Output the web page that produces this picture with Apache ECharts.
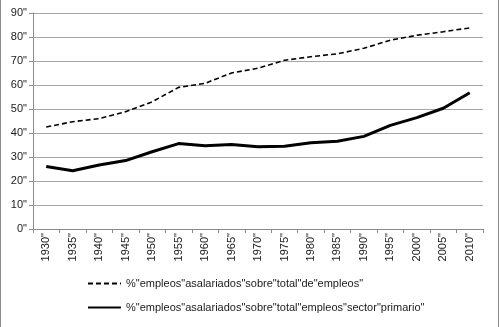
<!DOCTYPE html>
<html><head><meta charset="utf-8">
<script src="https://cdn.jsdelivr.net/npm/echarts@6/dist/echarts.min.js"></script>
<style>html,body{margin:0;padding:0;background:#fff}#c{width:500px;height:327px}</style>
</head><body><div id="c"></div>
<script>
const categories = ['1930"','1935"','1940"','1945"','1950"','1955"','1960"','1965"','1970"','1975"','1980"','1985"','1990"','1995"','2000"','2005"','2010"'];
const seriesNames = ['%"empleos"asalariados"sobre"total"de"empleos"', '%"empleos"asalariados"sobre"total"empleos"sector"primario"'];
const totalValues = [42.5, 44.7, 46.0, 48.9, 53.0, 59.0, 60.7, 65.0, 67.0, 70.3, 71.8, 73.0, 75.3, 78.7, 80.7, 82.2, 83.8];
const primaryValues = [26.0, 24.3, 26.7, 28.5, 32.2, 35.6, 34.7, 35.2, 34.3, 34.5, 35.9, 36.6, 38.6, 43.2, 46.4, 50.3, 56.8];
const yTicks = [0,10,20,30,40,50,60,70,80,90];

const chart = echarts.init(document.getElementById('c'), null, {renderer:'canvas'});
const font = 'Liberation Sans';
chart.setOption({
  animation:false,
  backgroundColor:'#fff',
  textStyle:{fontFamily:font},
  grid:{left:33, right:17, top:13, bottom:98},
  graphic:[
    {type:'line', shape:{x1:0.5,y1:0,x2:0.5,y2:327}, style:{stroke:'#8c8c8c',lineWidth:1}},
    {type:'line', shape:{x1:498.5,y1:0,x2:498.5,y2:327}, style:{stroke:'#8c8c8c',lineWidth:1}}
  ],
  legend:{
    orient:'vertical', left:82, top:273, itemGap:13, itemWidth:33, itemHeight:10,
    textStyle:{fontFamily:font, fontSize:11, color:'#1a1a1a'},
    itemStyle:{opacity:0},
    data:seriesNames
  },
  xAxis:{
    type:'category', data:categories, boundaryGap:true,
    axisLine:{lineStyle:{color:'#8c8c8c'}},
    axisTick:{show:true, length:4, lineStyle:{color:'#8c8c8c'}, interval:0},
    axisLabel:{rotate:90, interval:0, fontFamily:font, fontSize:11, color:'#1a1a1a', margin:4}
  },
  yAxis:{
    type:'value', min:0, max:90, interval:10,
    axisLine:{show:true, lineStyle:{color:'#8c8c8c'}},
    axisTick:{show:true, length:4, inside:false, lineStyle:{color:'#8c8c8c'}},
    axisLabel:{fontFamily:font, fontSize:11, color:'#1a1a1a', margin:6,
      formatter:function(v){ return yTicks.indexOf(v) >= 0 ? v + '"' : ''; }},
    splitLine:{lineStyle:{color:'#a6a6a6', width:1}}
  },
  series:[
    {name:seriesNames[0], type:'line', data:totalValues, symbol:'none',
     lineStyle:{color:'#000', width:1.6, type:[5,3]}, itemStyle:{color:'#000'}},
    {name:seriesNames[1], type:'line', data:primaryValues, symbol:'none',
     lineStyle:{color:'#000', width:3}, itemStyle:{color:'#000'}}
  ]
});
</script></body></html>
